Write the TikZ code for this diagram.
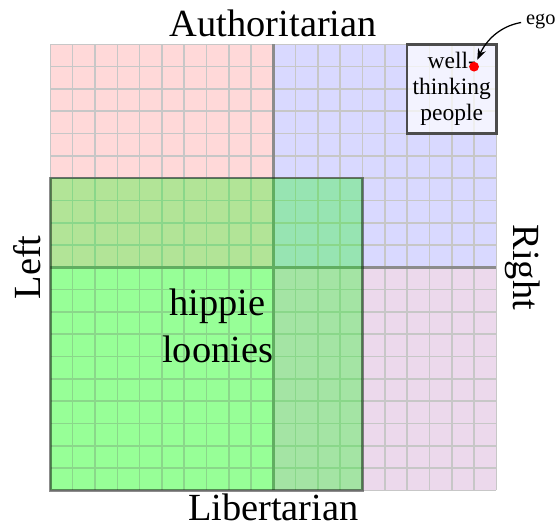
\documentclass[tikz,border=0pt]{standalone}
\usepackage{fontspec}
\setmainfont{Liberation Serif}
\usepackage{tikz}
\usetikzlibrary{positioning, arrows.meta}

\begin{document}
\begin{tikzpicture}[x=0.5cm, y=0.5cm,
                gridline/.style={draw=black!22, line width=1pt},
                axisline/.style={draw=black!45, line width=1.5pt},
                axislabel/.style={inner sep=0pt, font=\fontsize{24.5}{30}\selectfont},
                region/.style={fill=green, fill opacity=0.3, draw=black, draw opacity=0.45, line width=1.5pt},
                groupbox/.style={draw=black!70, line width=1.5pt, fill=white, fill opacity=0.7, text opacity=1,
                    minimum size=2cm, inner sep=0pt, align=center, font=\fontsize{15}{16.5}\selectfont},
                dot/.style={circle, fill=red, inner sep=0pt, minimum size=0.22cm},
                smalllabel/.style={inner sep=1pt, font=\fontsize{13}{15}\selectfont}
            ]

            \useasboundingbox (-12.26,-11.78) rectangle (12.72,11.99);

            % Quadranten
            \fill[red!15] (-10,0) rectangle (0,10);
            \fill[blue!15] (0,0) rectangle (10,10);
            \fill[green!15] (-10,-10) rectangle (0,0);
            \fill[violet!15] (0,-10) rectangle (10,0);
            \draw[gridline, step=1] (-10,-10) grid (10,10);
            \draw[axisline] (-10,0) -- (10,0);
            \draw[axisline] (0,-10) -- (0,10);

            % Achsen
            \node[axislabel, anchor=base] (auth) at (0,10.34) {Authoritarian};
            \node[axislabel, anchor=base] (lib) at (0,-11.35) {Libertarian};
            \node[axislabel, anchor=base, rotate=90] (left) at (-10.46,0) {Left};
            \node[axislabel, anchor=base, rotate=-90] (right) at (10.75,0) {Right};

            % Gruppen
            \draw[region] (-10,-10) rectangle (4,4);
            \node[axislabel, align=center] (hippies) at (-2.5,-2.63) {hippie\\loonies};
            \node[groupbox] (wtp) at (8,8) {well-\\thinking\\people};

            % ego
            \node[dot] (egodot) at (9,9) {};
            \node[smalllabel, anchor=base west] (ego) at (11.25,10.87) {ego};
            \draw[-{Stealth[length=2.5mm]}, thick, shorten >=1.5pt, shorten <=2pt] (ego.west) to[out=190, in=65] (egodot);

        \end{tikzpicture}
\end{document}
